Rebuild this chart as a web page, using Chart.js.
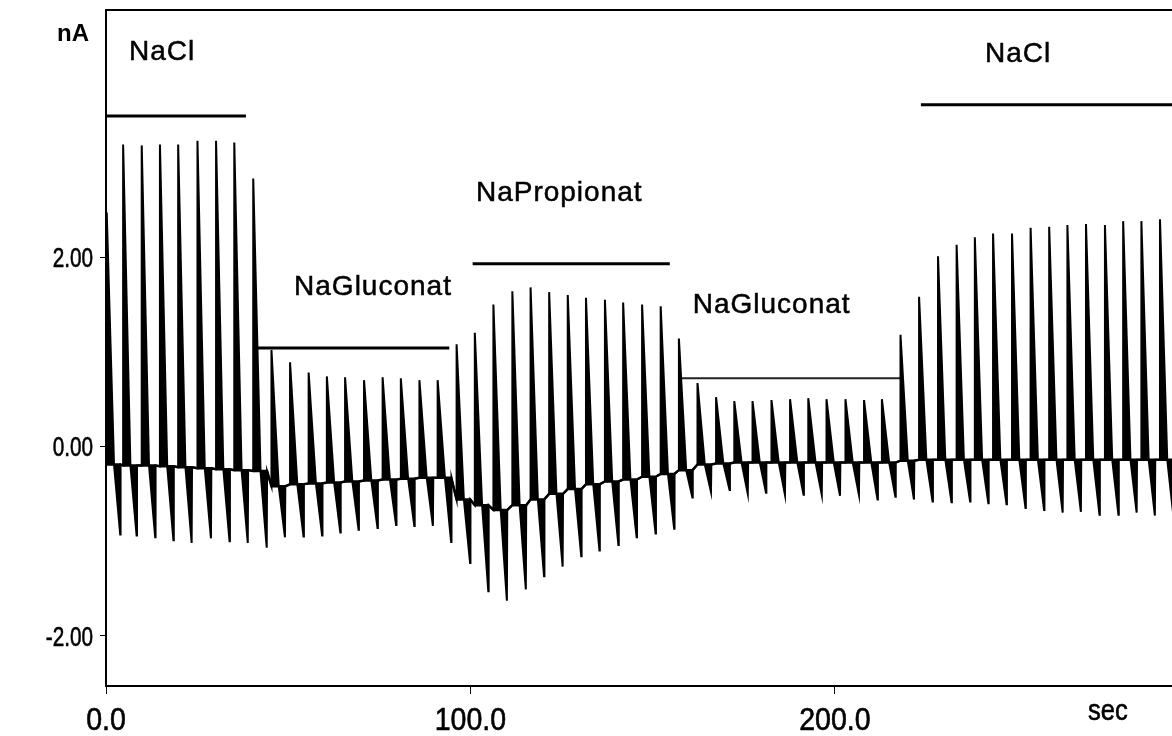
<!DOCTYPE html>
<html>
<head>
<meta charset="utf-8">
<script src="https://cdn.jsdelivr.net/npm/chart.js@4.4.0/dist/chart.umd.min.js"></script>
<style>
  html, body { margin: 0; padding: 0; background: #fff; }
  #wrap { width: 1172px; height: 736px; position: relative; }
</style>
</head>
<body>
<div id="wrap"><canvas id="chart"></canvas></div>
<script>
// time of each voltage pulse (sec) and the current read at it (nA)
let pulseTimes = [0.2, 4.7, 9.8, 14.8, 19.8, 25.1, 30.2, 35.2, 40.4, 45.4,
    50.5, 55.6, 60.6, 65.6, 70.8, 75.9, 80.9, 86.0, 91.0, 96.2,
    101.2, 106.3, 111.5, 116.5, 121.6, 126.7, 131.7, 136.9, 141.9, 147.1,
    152.2, 157.2, 162.3, 167.4, 172.4, 177.4, 182.6, 187.7, 192.7, 197.7,
    202.9, 208.0, 212.9, 218.0, 223.1, 228.3, 233.4, 238.4, 243.4, 248.6,
    253.7, 258.8, 263.8, 268.9, 274.1, 279.1, 284.1, 289.2];
let peakValues = [2.47, 3.19, 3.18, 3.19, 3.19, 3.23, 3.23, 3.21, 2.83, 1.02,
    0.89, 0.78, 0.74, 0.73, 0.70, 0.73, 0.72, 0.70, 0.70, 1.08,
    1.20, 1.50, 1.64, 1.68, 1.63, 1.60, 1.57, 1.55, 1.52, 1.50,
    1.48, 1.14, 0.67, 0.52, 0.48, 0.48, 0.49, 0.50, 0.51, 0.50,
    0.50, 0.49, 0.50, 1.18, 1.58, 2.01, 2.13, 2.21, 2.25, 2.25,
    2.31, 2.32, 2.34, 2.35, 2.34, 2.38, 2.38, 2.40];
let troughValues = [-0.93, -0.94, -0.96, -0.99, -1.02, -0.97, -1.00, -1.02, -1.07, -0.96,
    -0.95, -0.94, -0.91, -0.88, -0.86, -0.83, -0.84, -0.84, -1.01, -1.23,
    -1.53, -1.63, -1.51, -1.37, -1.27, -1.16, -1.10, -1.04, -0.96, -0.92,
    -0.87, -0.54, -0.48, -0.46, -0.50, -0.49, -0.51, -0.51, -0.51, -0.52,
    -0.51, -0.56, -0.53, -0.56, -0.58, -0.59, -0.58, -0.60, -0.61, -0.65,
    -0.67, -0.70, -0.69, -0.72, -0.72, -0.70, -0.73, -0.74];
let baseValues = [-0.19, -0.20, -0.20, -0.21, -0.22, -0.23, -0.24, -0.25, -0.26, -0.42,
    -0.40, -0.39, -0.38, -0.37, -0.36, -0.35, -0.34, -0.33, -0.33, -0.56,
    -0.62, -0.67, -0.62, -0.56, -0.50, -0.45, -0.40, -0.37, -0.35, -0.32,
    -0.29, -0.25, -0.19, -0.18, -0.17, -0.17, -0.17, -0.17, -0.17, -0.17,
    -0.17, -0.17, -0.17, -0.15, -0.14, -0.14, -0.14, -0.14, -0.14, -0.14,
    -0.14, -0.14, -0.14, -0.14, -0.14, -0.14, -0.14, -0.14];

// bath solutions: bar from start to end (sec) at a level (nA), label anchor
let solutionNames = ["NaCl", "NaGluconat", "NaPropionat", "NaGluconat", "NaCl"];
let solutionStart = [0, 41.4, 100.6, 157.7, 223.6];
let solutionEnd = [38.4, 94.2, 154.7, 218.0, 292.5];
let solutionLevel = [3.49, 1.04, 1.93, 0.72, 3.61];
let labelTime = [6.3, 51.6, 101.5, 161.0, 241.2];
let labelLevel = [4.08, 1.60, 2.59, 1.41, 4.06];

let xTicks = [0, 100, 200];
let yTicks = [-2, 0, 2];

const FONT = '"Liberation Sans", Arial, sans-serif';

function buildTrace() {
    let trace = [];
    let base = [];
    pulseTimes.forEach((t, i) => {
        let b = baseValues[i];
        // jump up, decay through baseline to the off-transient, snap back
        let pts = [[t, b], [t, peakValues[i]], [t + 2.0, b], [t + 3.7, troughValues[i]], [t + 3.8, b]];
        pts.forEach(p => {
            trace.push({x: p[0], y: p[1]});
            base.push({x: p[0], y: b});
        });
    });
    return [trace, base];
}

// text squeezed sideways, like the narrow font of the original
function narrowText(ctx, text, x, y, size, squeeze, align) {
    ctx.save();
    ctx.font = size + 'px ' + FONT;
    ctx.textAlign = align;
    ctx.textBaseline = 'alphabetic';
    ctx.translate(x, y);
    ctx.scale(squeeze, 1);
    ctx.lineWidth = 0.6;
    ctx.strokeStyle = '#000';
    ctx.fillText(text, 0, 0);
    ctx.strokeText(text, 0, 0);
    ctx.restore();
}

const annotate = {
    id: 'annotate',
    afterDatasetsDraw(chart) {
        const {ctx, chartArea, scales} = chart;
        ctx.save();
        ctx.fillStyle = '#000';
        ctx.strokeStyle = '#000';
        ctx.font = '28px ' + FONT;
        ctx.letterSpacing = '1px';
        ctx.lineWidth = 0.5;
        ctx.textBaseline = 'alphabetic';
        solutionNames.forEach((name, i) => {
            let px = scales.x.getPixelForValue(labelTime[i]);
            let py = scales.y.getPixelForValue(labelLevel[i]);
            ctx.fillText(name, px, py);
            ctx.strokeText(name, px, py);
        });
        ctx.letterSpacing = '0px';

        //frame on top
        ctx.lineWidth = 2;
        ctx.beginPath();
        ctx.moveTo(chartArea.left, chartArea.top);
        ctx.lineTo(chartArea.right, chartArea.top);
        ctx.stroke();

        //tick labels
        scales.x.ticks.forEach(t => {
            narrowText(ctx, t.value.toFixed(1), scales.x.getPixelForValue(t.value), chartArea.bottom + 44, 31, 0.92, 'center');
        });
        scales.y.ticks.forEach(t => {
            narrowText(ctx, t.value.toFixed(2), chartArea.left - 13, scales.y.getPixelForValue(t.value) + 10, 28, 0.74, 'right');
        });

        //units
        ctx.font = 'bold 24px ' + FONT;
        ctx.textAlign = 'right';
        ctx.fillText('nA', chartArea.left - 17, chartArea.top + 31);
        narrowText(ctx, 'sec', chartArea.right - 84, chartArea.bottom + 34, 29, 0.88, 'left');
        ctx.restore();
    }
};

function createChart() {
    let [trace, base] = buildTrace();
    let datasets = [{
        data: trace,
        borderColor: '#000',
        backgroundColor: '#000',
        borderWidth: 2,
        pointRadius: 0,
        tension: 0,
        fill: {target: 1, above: '#000', below: '#000'}
    }, {
        data: base,
        borderColor: '#000',
        borderWidth: 2.5,
        pointRadius: 0,
        tension: 0,
        fill: false
    }];

    solutionNames.forEach((name, i) => {
        datasets.push({
            data: [{x: solutionStart[i], y: solutionLevel[i]}, {x: solutionEnd[i], y: solutionLevel[i]}],
            borderColor: i == 3 ? '#222' : '#000',
            borderWidth: i == 3 ? 2 : 3,
            pointRadius: 0,
            fill: false
        });
    });

    new Chart(document.getElementById('chart'), {
        type: 'line',
        data: {datasets: datasets},
        options: {
            responsive: true,
            maintainAspectRatio: false,
            animation: false,
            layout: {padding: {top: 10, right: 0, left: 0, bottom: 0}},
            plugins: {legend: {display: false}, tooltip: {enabled: false}},
            scales: {
                x: {
                    type: 'linear',
                    min: 0,
                    max: 292.5,
                    afterBuildTicks: s => { s.ticks = xTicks.map(v => ({value: v})); },
                    afterFit: s => { s.height = 50; },
                    ticks: {display: false},
                    grid: {drawOnChartArea: false, tickLength: 8, color: '#000', lineWidth: 1},
                    border: {color: '#000', width: 2}
                },
                y: {
                    min: -2.53,
                    max: 4.61,
                    afterBuildTicks: s => { s.ticks = yTicks.map(v => ({value: v})); },
                    afterFit: s => { s.width = 106; },
                    ticks: {display: false},
                    grid: {drawOnChartArea: false, tickLength: 6, color: '#000', lineWidth: 1},
                    border: {color: '#000', width: 2}
                }
            }
        },
        plugins: [annotate]
    });
}

createChart();
</script>
</body>
</html>
